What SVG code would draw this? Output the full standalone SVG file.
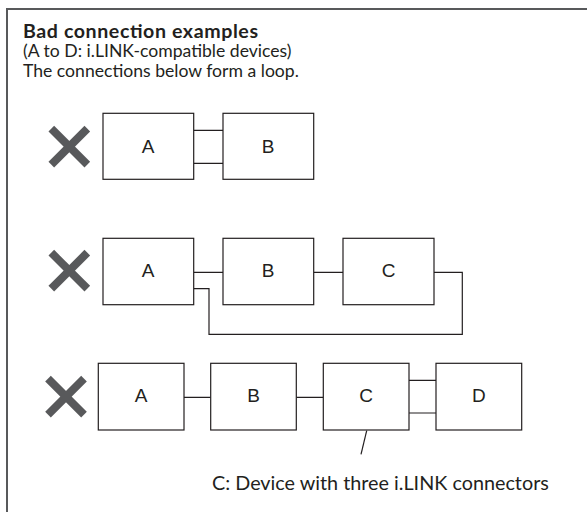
<svg xmlns="http://www.w3.org/2000/svg" width="587" height="512" viewBox="0 0 587 512">
<style>
.frame{fill:none;stroke:#58595b;stroke-width:2}
.box{fill:#fff;stroke:#231f20;stroke-width:1.2}
.lbl{font-family:"Liberation Sans",Arial,sans-serif;font-size:19px;fill:#231f20;text-anchor:middle}
.txt{font-family:Lato,"Open Sans",sans-serif;font-size:17.6px;fill:#231f20}
.ttl{font-family:Lato,"Open Sans",sans-serif;font-size:19.6px;font-weight:bold;fill:#231f20}
.note{font-family:Lato,"Open Sans",sans-serif;font-size:19.8px;fill:#231f20}
.wire{fill:none;stroke:#231f20;stroke-width:1.2}
.x{stroke:#58595b;stroke-width:8;stroke-linecap:butt}
</style>
<defs>
<g id="xmark"><line class="x" x1="-18" y1="-18" x2="18" y2="18"/><line class="x" x1="18" y1="-18" x2="-18" y2="18"/></g>
</defs>
<rect width="587" height="512" fill="#fff"/>
<path class="frame" d="M7 512 V9 H587"/>
<g id="header">
<text class="ttl" x="23" y="37.5" textLength="235" lengthAdjust="spacing">Bad connection examples</text>
<text class="txt" x="23" y="57">(A to D: i.LINK-compatible devices)</text>
<text class="txt" x="23" y="76.5">The connections below form a loop.</text>
</g>
<g id="marks">
<use href="#xmark" x="69.3" y="146.7"/>
<use href="#xmark" x="69.3" y="270.7"/>
<use href="#xmark" x="66" y="396.7"/>
</g>
<g id="connectors">
<path class="wire" d="M193.7 130.3 H223 M193.7 163.3 H223"/>
<path class="wire" d="M193.7 272.3 H223 M313.7 272.3 H343"/>
<path class="wire" d="M193.7 288.7 H209 V334.3 H462.3 V272.3 H434"/>
<path class="wire" d="M184 397.3 H210.7 M296.3 397.3 H323.3 M409 380.3 H436 M409 413 H436"/>
<path class="wire" d="M366.7 430.7 L361 454.3"/>
</g>
<g id="r1-A"><rect class="box" x="103" y="113.3" width="90.7" height="66"/><text class="lbl" x="148" y="153.3">A</text></g>
<g id="r1-B"><rect class="box" x="223" y="113.3" width="90.7" height="66"/><text class="lbl" x="268" y="153.3">B</text></g>
<g id="r2-A"><rect class="box" x="103" y="238.3" width="90.7" height="66.4"/><text class="lbl" x="148" y="277.3">A</text></g>
<g id="r2-B"><rect class="box" x="223" y="238.3" width="90.7" height="66.4"/><text class="lbl" x="268" y="277.3">B</text></g>
<g id="r2-C"><rect class="box" x="343" y="238.3" width="91" height="66.4"/><text class="lbl" x="388.5" y="277.3">C</text></g>
<g id="r3-A"><rect class="box" x="98.3" y="363.3" width="85.7" height="66.7"/><text class="lbl" x="141.2" y="402.3">A</text></g>
<g id="r3-B"><rect class="box" x="210.7" y="363.3" width="85.6" height="66.7"/><text class="lbl" x="253.5" y="402.3">B</text></g>
<g id="r3-C"><rect class="box" x="323.3" y="363.3" width="85.7" height="66.7"/><text class="lbl" x="366.2" y="402.3">C</text></g>
<g id="r3-D"><rect class="box" x="436" y="363.3" width="85.7" height="66.7"/><text class="lbl" x="478.8" y="402.3">D</text></g>
<g id="note"><text class="note" x="212" y="490">C: Device with three i.LINK connectors</text></g>
</svg>
